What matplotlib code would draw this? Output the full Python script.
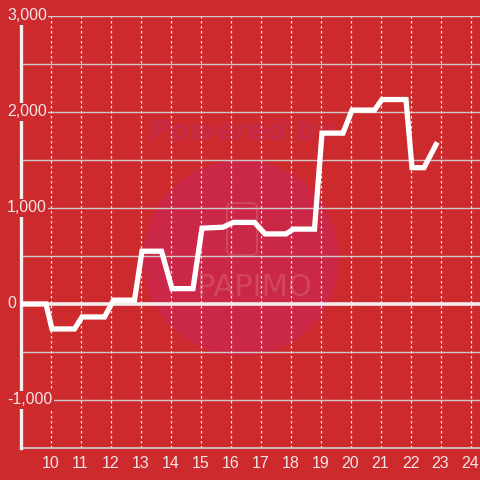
import matplotlib
matplotlib.use("Agg")
import matplotlib.pyplot as plt
from matplotlib.patches import Circle, FancyBboxPatch

# data (hour of day, cumulative value)
hours = [9.0, 9.85, 10.05, 10.8, 11.05, 11.8, 12.1, 12.8, 13.05, 13.7, 14.05,
         14.75, 15.05, 15.75, 16.1, 16.8, 17.15, 17.85, 18.1, 18.8, 19.05,
         19.75, 20.05, 20.8, 21.05, 21.85, 22.05, 22.45, 22.85]
values = [0, 0, -260, -260, -135, -135, 40, 40, 550, 550, 160,
          160, 790, 800, 850, 850, 730, 730, 780, 780, 1780,
          1780, 2020, 2020, 2130, 2130, 1420, 1420, 1660]
x_ticks = list(range(10, 25))
y_ticks = [-1000, 0, 1000, 2000, 3000]
y_grid = [-1500, -500, 500, 1500, 2500]

bg = '#cd2a2e'
grid_col = '#cfc6c6'
txt_col = '#f3e4e4'

fig = plt.figure(figsize=(4.8, 4.8), dpi=100)
fig.patch.set_facecolor(bg)

# watermark (behind the axes)
wm = fig.add_axes([0, 0, 1, 1], zorder=0)
wm.set_xlim(0, 480)
wm.set_ylim(480, 0)
wm.axis('off')
wm.add_patch(Circle((241, 258), 98, facecolor='#cb2746', edgecolor='none'))
wm.text(150, 132, 'Powered by', color='#c62a47', fontsize=20,
        fontweight='bold', style='italic', va='center', ha='left')
wm.add_patch(FancyBboxPatch((227, 203), 30, 52, boxstyle='round,pad=0,rounding_size=5',
                            facecolor='none', edgecolor='#d24a62', lw=1.2))
wm.text(254, 287, 'PAPIMO', color='#d24a62', fontsize=22, va='center', ha='center',
        family='DejaVu Sans', alpha=0.9)

ax = fig.add_axes([20.5 / 480, 32 / 480, 459.5 / 480, 432 / 480], zorder=2)
ax.set_facecolor('none')
ax.set_xlim(9, 9 + 459.5 / 30)
ax.set_ylim(-1500, 3000)

for s in ['top', 'right']:
    ax.spines[s].set_visible(False)
ax.spines['left'].set_color('#f4f0f0')
ax.spines['left'].set_linewidth(2.4)
ax.spines['left'].set_bounds(-1500, 2920)
ax.spines['left'].set_zorder(3)
ax.spines['bottom'].set_color(grid_col)
ax.spines['bottom'].set_linewidth(1.3)

# grid
for v in y_ticks + y_grid:
    if v == 0:
        ax.axhline(v, color='#f0eded', lw=2.6, zorder=2)
    elif v != -1500:
        ax.axhline(v, color=grid_col, lw=1.0, zorder=1)
for h in x_ticks:
    ax.plot([h, h], [-1500, 3000], color='#ece6e6', lw=0.9, ls=(0, (2, 2)), zorder=1)

ax.plot(hours, values, color='white', lw=3.8, solid_joinstyle='miter', zorder=4)

ax.set_xticks(x_ticks)
ax.set_xticklabels([str(h) for h in x_ticks])
ax.tick_params(axis='x', length=0, pad=5.5, labelsize=11.5, colors=txt_col)
for lab in ax.get_xticklabels():
    lab.set_fontfamily('Liberation Sans')
ax.set_yticks([])

for v in y_ticks:
    ax.text(-13.5 / 459.5, v, f'{v:,}', transform=ax.get_yaxis_transform(),
            ha='left', va='center', fontsize=11.5, color=txt_col, family='Liberation Sans',
            zorder=6, clip_on=False,
            bbox=dict(facecolor=bg, edgecolor='none', pad=1.2))

fig.savefig('out.png', dpi=100, facecolor=bg)
